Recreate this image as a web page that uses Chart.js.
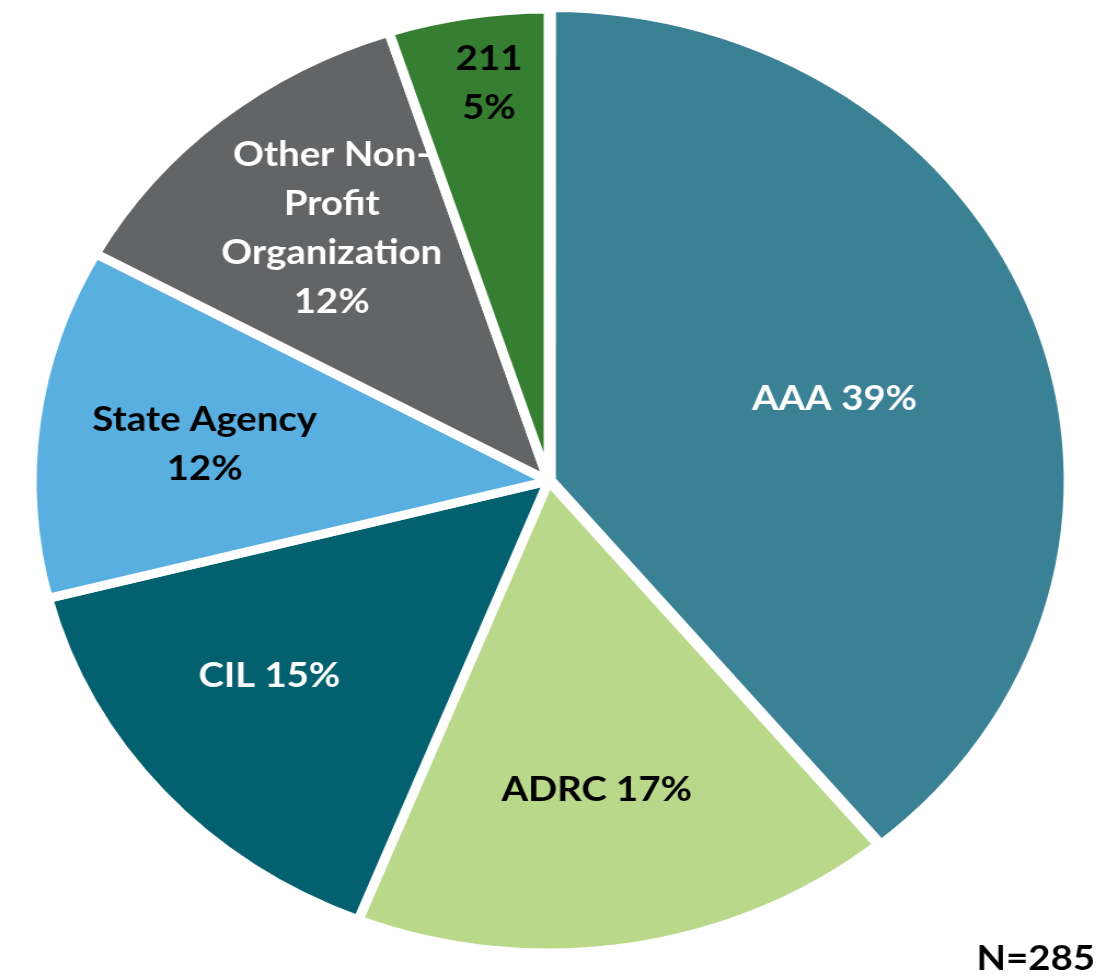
<!DOCTYPE html>
<html>
<head>
<meta charset="utf-8">
<script src="https://cdn.jsdelivr.net/npm/chart.js@4/dist/chart.umd.min.js"></script>
<style>
  html, body { margin: 0; padding: 0; background: #fff; overflow: hidden; }
  #wrap {
    position: relative;
    width: 1004px;
    height: 980px;
    transform: scaleX(1.095);
    transform-origin: 0 0;
  }
</style>
</head>
<body>
<div id="wrap"><canvas id="chart"></canvas></div>
<script>
/* ---------- DATA ---------- */
const categories = ["AAA", "ADRC", "CIL", "State Agency", "Other Non-Profit Organization", "211"];
const shares = [39, 17, 15, 12, 12, 5];
const labelLines = [
    ["AAA 39%"],
    ["ADRC 17%"],
    ["CIL 15%"],
    ["State Agency", "12%"],
    ["Other Non-", "Profit", "Organization", "12%"],
    ["211", "5%"]
];
const sampleNote = "N=285";

/* ---------- STYLE ---------- */
const colors = ["#3a8196", "#bad88a", "#03606f", "#5aafe1", "#636466", "#367f32"];
const textColors = ["#ffffff", "#000000", "#ffffff", "#000000", "#ffffff", "#000000"];
const labelRadius = [0.58, 0.66, 0.68, 0.67, 0.68, 0.85];
const labelTurn = [2.3, 0.9, 4, -0.5, 1.5, 1.2]; // degrees, away from slice middle
const FONT = "bold 35px Lato, 'Open Sans', sans-serif";
const LINE_H = 49;

/* ---------- LABEL PLUGIN ---------- */
const sliceLabels = {
    id: "sliceLabels",
    afterDatasetsDraw(chart) {
        const ctx = chart.ctx;
        const meta = chart.getDatasetMeta(0);
        ctx.save();
        ctx.font = FONT;
        ctx.textAlign = "center";
        ctx.textBaseline = "middle";
        meta.data.forEach((arc, i) => {
            const p = arc.getProps(["x", "y", "startAngle", "endAngle", "outerRadius"], true);
            const mid = (p.startAngle + p.endAngle) / 2 + labelTurn[i] * Math.PI / 180;
            const r = p.outerRadius * labelRadius[i];
            const cx = p.x + Math.cos(mid) * r;
            const cy = p.y + Math.sin(mid) * r;
            const lines = labelLines[i];
            const top = cy - (lines.length - 1) * LINE_H / 2;
            ctx.fillStyle = textColors[i];
            lines.forEach((t, k) => ctx.fillText(t, cx, top + k * LINE_H));
        });
        // sample size note, bottom right
        ctx.fillStyle = "#000";
        ctx.textAlign = "right";
        ctx.fillText(sampleNote, chart.width - 4, 959);
        ctx.restore();
    }
};

/* ---------- CHART ---------- */
new Chart(document.getElementById("chart"), {
    type: "pie",
    data: {
        labels: categories,
        datasets: [{
            data: shares,
            backgroundColor: colors,
            borderColor: "#ffffff",
            borderWidth: 9,
            offset: [9, 0, 0, 0, 0, 0]
        }]
    },
    options: {
        responsive: true,
        maintainAspectRatio: false,
        animation: false,
        layout: { padding: { top: 0, bottom: 18, left: 0, right: 2 } },
        plugins: {
            legend: { display: false },
            tooltip: { enabled: false }
        }
    },
    plugins: [sliceLabels]
});
</script>
</body>
</html>
